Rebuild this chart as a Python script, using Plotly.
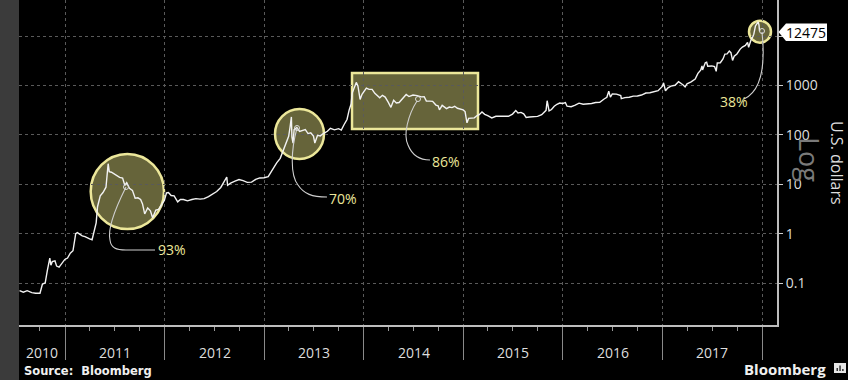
import math
import plotly.graph_objects as go

# ---------------- data ----------------
dates = [
    "2010-07-18", "2010-08-01", "2010-08-15", "2010-09-01", "2010-09-15", "2010-10-01",
    "2010-10-10", "2010-10-20", "2010-10-28", "2010-11-06", "2010-11-10", "2010-11-15",
    "2010-11-25", "2010-12-01", "2010-12-10", "2010-12-20", "2010-12-31",
    "2011-01-10", "2011-01-20", "2011-01-30", "2011-02-09", "2011-02-15", "2011-02-25",
    "2011-03-05", "2011-03-15", "2011-03-25", "2011-04-01", "2011-04-10", "2011-04-17",
    "2011-04-25", "2011-04-30", "2011-05-10", "2011-05-20", "2011-05-31", "2011-06-08",
    "2011-06-12", "2011-06-20", "2011-06-30", "2011-07-10", "2011-07-20", "2011-07-31",
    "2011-08-08", "2011-08-15", "2011-08-25", "2011-09-05", "2011-09-15", "2011-09-25",
    "2011-10-05", "2011-10-12", "2011-10-20", "2011-10-31", "2011-11-10", "2011-11-18",
    "2011-11-30", "2011-12-10", "2011-12-20", "2011-12-31",
    "2012-01-08", "2012-01-15", "2012-01-25", "2012-02-05", "2012-02-18", "2012-02-28",
    "2012-03-10", "2012-03-25", "2012-04-10", "2012-04-25", "2012-05-10", "2012-05-25",
    "2012-06-10", "2012-06-25", "2012-07-10", "2012-07-25", "2012-08-05", "2012-08-16",
    "2012-08-19", "2012-08-30", "2012-09-15", "2012-09-30", "2012-10-15", "2012-10-30",
    "2012-11-15", "2012-11-30", "2012-12-15", "2012-12-31",
    "2013-01-15", "2013-01-31", "2013-02-15", "2013-02-28", "2013-03-10", "2013-03-20",
    "2013-03-31", "2013-04-05", "2013-04-10", "2013-04-12", "2013-04-16", "2013-04-20",
    "2013-04-30", "2013-05-10", "2013-05-20", "2013-05-31", "2013-06-10", "2013-06-20",
    "2013-06-30", "2013-07-05", "2013-07-15", "2013-07-25", "2013-08-05", "2013-08-20",
    "2013-08-31", "2013-09-15", "2013-09-30", "2013-10-10", "2013-10-20", "2013-10-31",
    "2013-11-08", "2013-11-15", "2013-11-19", "2013-11-22", "2013-11-30", "2013-12-04",
    "2013-12-10", "2013-12-18", "2013-12-25", "2013-12-31",
    "2014-01-10", "2014-01-20", "2014-01-31", "2014-02-10", "2014-02-20", "2014-02-28",
    "2014-03-10", "2014-03-20", "2014-03-31", "2014-04-10", "2014-04-20", "2014-04-30",
    "2014-05-10", "2014-05-25", "2014-06-05", "2014-06-15", "2014-06-30", "2014-07-15",
    "2014-07-31", "2014-08-10", "2014-08-18", "2014-08-31", "2014-09-10", "2014-09-22",
    "2014-09-30", "2014-10-05", "2014-10-15", "2014-10-31", "2014-11-10", "2014-11-20",
    "2014-11-30", "2014-12-10", "2014-12-20", "2014-12-31",
    "2015-01-07", "2015-01-14", "2015-01-20", "2015-01-31", "2015-02-10", "2015-02-20",
    "2015-02-28", "2015-03-10", "2015-03-20", "2015-03-31", "2015-04-15", "2015-04-30",
    "2015-05-15", "2015-05-31", "2015-06-15", "2015-06-30", "2015-07-12", "2015-07-20",
    "2015-07-31", "2015-08-10", "2015-08-19", "2015-08-31", "2015-09-15", "2015-09-30",
    "2015-10-15", "2015-10-31", "2015-11-04", "2015-11-11", "2015-11-20", "2015-11-30",
    "2015-12-10", "2015-12-20", "2015-12-31",
    "2016-01-10", "2016-01-16", "2016-01-31", "2016-02-15", "2016-02-29", "2016-03-15",
    "2016-03-31", "2016-04-15", "2016-04-30", "2016-05-15", "2016-05-31", "2016-06-10",
    "2016-06-17", "2016-06-23", "2016-06-30", "2016-07-15", "2016-07-31", "2016-08-02",
    "2016-08-15", "2016-08-31", "2016-09-15", "2016-09-30", "2016-10-15", "2016-10-31",
    "2016-11-15", "2016-11-30", "2016-12-15", "2016-12-31",
    "2017-01-04", "2017-01-11", "2017-01-20", "2017-01-31", "2017-02-15", "2017-02-28",
    "2017-03-10", "2017-03-17", "2017-03-24", "2017-03-31", "2017-04-15", "2017-04-30",
    "2017-05-10", "2017-05-20", "2017-05-25", "2017-05-27", "2017-06-06", "2017-06-11",
    "2017-06-15", "2017-06-30", "2017-07-10", "2017-07-16", "2017-07-20", "2017-07-31",
    "2017-08-10", "2017-08-17", "2017-08-25", "2017-08-31", "2017-09-02", "2017-09-08",
    "2017-09-14", "2017-09-20", "2017-09-30", "2017-10-12", "2017-10-20", "2017-10-31",
    "2017-11-08", "2017-11-12", "2017-11-20", "2017-11-28", "2017-12-01", "2017-12-07",
    "2017-12-12", "2017-12-17", "2017-12-20", "2017-12-22",
]
prices = [
    0.07, 0.065, 0.07, 0.064, 0.062, 0.062,
    0.095, 0.10, 0.18, 0.32, 0.23, 0.27,
    0.28, 0.22, 0.21, 0.25, 0.30,
    0.32, 0.40, 0.45, 1.00, 1.05, 0.95,
    0.90, 0.87, 0.80, 0.78, 0.75, 1.10,
    1.65, 3.50, 5.80, 6.80, 8.70, 26.0,
    18.0, 17.5, 16.0, 14.5, 13.7, 13.3,
    9.5, 10.8, 8.3, 7.5, 5.2, 5.3,
    4.9, 4.0, 2.5, 3.3, 2.9, 2.1,
    3.0, 3.1, 3.9, 4.7,
    6.7, 6.8, 5.9, 5.8, 4.4, 4.9,
    4.9, 4.6, 4.9, 5.1, 5.0, 5.1,
    5.6, 6.4, 7.1, 8.6, 11.0, 14.0,
    9.5, 10.5, 11.5, 12.4, 11.8, 10.9,
    11.0, 12.5, 13.4, 13.5,
    14.2, 20.4, 27.0, 33.4, 46, 64,
    93, 142, 230, 90, 68, 127,
    140, 117, 122, 128, 106, 110,
    94, 68, 98, 95, 106, 118,
    135, 126, 133, 125, 160, 204,
    320, 420, 700, 780, 1100, 1150,
    980, 520, 660, 750,
    880, 830, 830, 690, 600, 560,
    630, 580, 460, 360, 500, 440,
    450, 575, 655, 595, 640, 620,
    585, 590, 480, 480, 475, 400,
    385, 320, 395, 338, 365, 355,
    378, 345, 330, 320,
    295, 175, 215, 220, 220, 245,
    255, 290, 260, 245, 220, 237,
    237, 230, 237, 263, 310, 278,
    284, 265, 225, 230, 230, 236,
    255, 313, 490, 305, 325, 378,
    415, 440, 430,
    448, 380, 370, 400, 437, 415,
    416, 430, 450, 455, 530, 575,
    760, 580, 670, 665, 624, 540,
    567, 575, 607, 609, 638, 700,
    710, 742, 780, 964,
    1130, 780, 895, 970, 1008, 1190,
    1100, 1020, 930, 1080, 1180, 1350,
    1750, 2040, 2480, 2050, 2870, 2950,
    2450, 2480, 2400, 1930, 2850, 2875,
    3420, 4300, 4360, 4700, 4950, 4600,
    3200, 3900, 4340, 5430, 5990, 6450,
    7460, 5880, 8100, 9900, 10900, 16000,
    17300, 19350, 16600, 12475,
]

year_labels = ["2010", "2011", "2012", "2013", "2014", "2015", "2016", "2017"]
year_label_dates = ["2010-10-07", "2011-07-02", "2012-07-02", "2013-07-02",
                    "2014-07-02", "2015-07-02", "2016-07-02", "2017-07-02"]
y_tickvals = [0.1, 1, 10, 100, 1000, 10000]
# the 10000 label sits hidden behind the last-value flag in the original
y_ticktext = ["0.1", "1", "10", "100", "1000", ""]
drop_labels = ["93%", "70%", "86%", "38%"]

# ---------------- layout helpers (pixel -> paper) ----------------
W, H = 848, 380
L, R, T, B = 19, 777, 0, 325
PW, PH = R - L, B - T


def px(x):
    return (x - L) / PW


def py(y):
    return (B - y) / PH


def path(pts_cmds):
    out = []
    for item in pts_cmds:
        if isinstance(item, str):
            out.append(item)
        else:
            out.append(f"{px(item[0]):.5f},{py(item[1]):.5f}")
    return " ".join(out)


YEL = "#ece79a"
FILL = "rgba(226,221,128,0.45)"
GRID = "#5a5a5a"
TXT = "#dedede"

fig = go.Figure()
fig.add_trace(go.Scatter(
    x=dates, y=prices, mode="lines",
    line=dict(color="#f2f2f2", width=1.4),
    hoverinfo="skip", showlegend=False,
))

shapes = []
# left grey strip
shapes.append(dict(type="rect", xref="paper", yref="paper",
                   x0=px(0), x1=px(L), y0=py(H), y1=py(0),
                   fillcolor="#3b3b3b", line=dict(width=0), layer="below"))

# highlight circles and box
for (x0, x1, y0, y1, kind) in [
    (90.7, 164, 154, 229, "circle"),
    (275, 324, 109, 159, "circle"),
    (352, 478, 73, 129, "rect"),
    (749, 771, 20.7, 42.7, "circle"),
]:
    shapes.append(dict(type=kind, xref="paper", yref="paper",
                       x0=px(x0), x1=px(x1), y0=py(y1), y1=py(y0),
                       fillcolor=FILL, line=dict(color=YEL, width=2.5),
                       layer="between"))

# connector curves
connectors = [
    ["M", (126, 187), "C", (112, 215), (108, 232), (110, 240),
     "C", (111, 248), (116, 250), (126, 250), "L", (155, 250)],
    ["M", (297, 128), "C", (291, 150), (290, 175), (298, 185),
     "C", (304, 194), (312, 197), (327, 197)],
    ["M", (417, 101), "C", (408, 115), (403, 135), (408, 145),
     "C", (412, 155), (420, 160), (430, 160)],
    ["M", (762, 32), "C", (765, 60), (763, 90), (744, 99)],
]
for c in connectors:
    shapes.append(dict(type="path", xref="paper", yref="paper",
                       path=path(c), line=dict(color="#cfcfcf", width=1.1),
                       layer="above"))
# small hollow dots at connector starts
for (cx, cy) in [(126, 187), (297, 128), (418, 99), (762, 31)]:
    shapes.append(dict(type="circle", xref="paper", yref="paper",
                       x0=px(cx - 2.5), x1=px(cx + 2.5), y0=py(cy + 2.5), y1=py(cy - 2.5),
                       line=dict(color="#dddddd", width=1), fillcolor="rgba(0,0,0,0)",
                       layer="above"))

# last value flag (arrow + box)
shapes.append(dict(type="path", xref="paper", yref="paper",
                   path=path(["M", (778.5, 32), "L", (786, 23.5), "L", (827, 23.5),
                              "L", (827, 41), "L", (786, 41), "Z"]),
                   fillcolor="#ffffff", line=dict(width=0), layer="above"))

# Bloomberg logo glyph
shapes.append(dict(type="rect", xref="paper", yref="paper",
                   x0=px(834), x1=px(846), y0=py(373), y1=py(363),
                   fillcolor="#e6e6e6", line=dict(width=0), layer="above"))
for (bx, btop) in [(836.5, 368), (839.3, 365.5), (842.1, 369)]:
    shapes.append(dict(type="rect", xref="paper", yref="paper",
                       x0=px(bx), x1=px(bx + 1.5), y0=py(371), y1=py(btop),
                       fillcolor="#333333", line=dict(width=0), layer="above"))

annotations = []
# year labels
for lab, d in zip(year_labels, year_label_dates):
    annotations.append(dict(x=d, y=py(352), xref="x", yref="paper",
                            text=lab, showarrow=False, xanchor="center", yanchor="middle",
                            font=dict(family="Open Sans, sans-serif", size=14, color=TXT)))
# percentage labels
for lab, (lx, ly) in zip(drop_labels, [(156, 250), (327, 198), (430, 161), (718, 101)]):
    annotations.append(dict(x=px(lx), y=py(ly), xref="paper", yref="paper",
                            text=lab, showarrow=False, xanchor="left", yanchor="middle",
                            font=dict(family="Open Sans, sans-serif", size=14, color=YEL)))
# last value
annotations.append(dict(x=px(806.5), y=py(32), xref="paper", yref="paper",
                        text=f"{prices[-1]}", showarrow=False, xanchor="center", yanchor="middle",
                        borderpad=0,
                        font=dict(family="Open Sans, sans-serif", size=14, color="#000000")))
# axis title + Log watermark
annotations.append(dict(x=px(837), y=py(163), xref="paper", yref="paper",
                        text="U.S. dollars", textangle=90, showarrow=False,
                        xanchor="center", yanchor="middle",
                        font=dict(family="Open Sans, sans-serif", size=16, color=TXT)))
annotations.append(dict(x=px(810), y=py(160), xref="paper", yref="paper",
                        text="Log", textangle=90, showarrow=False,
                        xanchor="center", yanchor="middle",
                        font=dict(family="Open Sans, sans-serif", size=27, color="#7a7a7a")))
# footer
annotations.append(dict(x=px(22), y=py(370.5), xref="paper", yref="paper",
                        text="<b>Source:  Bloomberg</b>", showarrow=False,
                        xanchor="left", yanchor="middle",
                        font=dict(family="DejaVu Sans, sans-serif", size=11.5, color="#f0f0f0")))
annotations.append(dict(x=px(827.5), y=py(369), xref="paper", yref="paper",
                        text="<b>Bloomberg</b>", showarrow=False,
                        xanchor="right", yanchor="middle",
                        font=dict(family="Open Sans, sans-serif", size=15, color="#f0f0f0")))

fig.update_layout(
    width=W, height=H,
    margin=dict(l=L, r=W - R, t=T, b=H - B, pad=0),
    paper_bgcolor="#000000", plot_bgcolor="#000000",
    showlegend=False,
    shapes=shapes, annotations=annotations,
    xaxis=dict(
        type="date", range=["2010-07-16", "2018-02-24"],
        tick0="2011-01-01", dtick="M12",
        showticklabels=False, ticks="outside", ticklen=33, tickcolor="#8a8a8a", tickwidth=1,
        showgrid=True, gridcolor=GRID, griddash="dot", gridwidth=1,
        showline=True, linecolor="#bdbdbd", linewidth=2,
        minor=dict(dtick="M3", tick0="2011-01-01", ticks="outside", ticklen=4,
                   tickcolor="#9a9a9a", showgrid=False),
        zeroline=False, fixedrange=True,
    ),
    yaxis=dict(
        type="log", side="right",
        range=[-1.850, 4.729],
        tickvals=y_tickvals, ticktext=y_ticktext,
        ticks="outside", ticklen=4, tickcolor="#cfcfcf",
        tickfont=dict(family="Open Sans, sans-serif", size=14, color=TXT),
        showgrid=True, gridcolor=GRID, griddash="dot", gridwidth=1,
        showline=True, linecolor="#bdbdbd", linewidth=2,
        zeroline=False, fixedrange=True,
    ),
)

fig.write_html(
    "out.html",
    config={"displayModeBar": False, "staticPlot": True},
    post_script="document.body.style.margin='0';document.body.style.padding='0';"
                "document.body.style.overflow='hidden';document.body.style.background='#000';",
)
